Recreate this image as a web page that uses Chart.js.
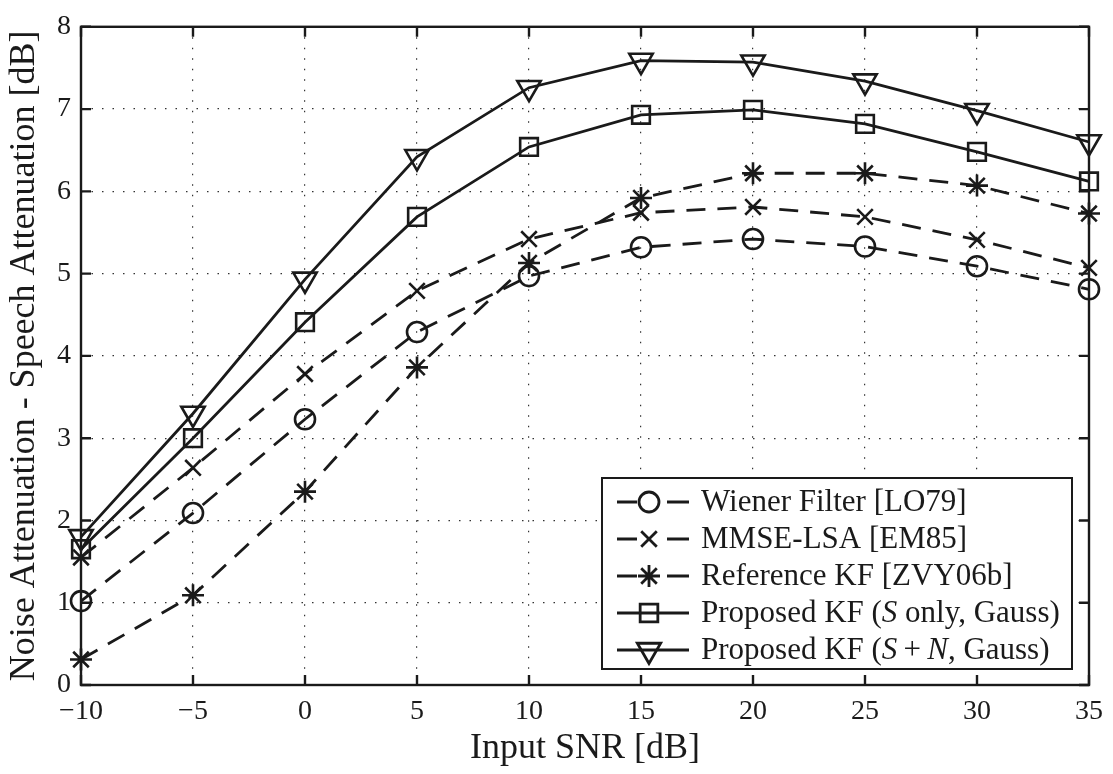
<!DOCTYPE html>
<html>
<head>
<meta charset="utf-8">
<script src="https://cdn.jsdelivr.net/npm/chart.js"></script>
<style>
  html, body { margin: 0; padding: 0; background: #fff; }
  #wrap { width: 1113px; height: 774px; }
</style>
</head>
<body>
<div id="wrap"><canvas id="snrChart" width="1113" height="774"></canvas></div>
<script>
// Input SNR values (x axis)
const snrValues = [-10, -5, 0, 5, 10, 15, 20, 25, 30, 35];
const xTicks = [-10, -5, 0, 5, 10, 15, 20, 25, 30, 35];
const yTicks = [0, 1, 2, 3, 4, 5, 6, 7, 8];

// Noise attenuation - speech attenuation per method [dB]
const wienerFilter = [1.02, 2.09, 3.23, 4.29, 4.97, 5.32, 5.42, 5.33, 5.09, 4.81];
const mmseLsa = [1.55, 2.64, 3.78, 4.79, 5.42, 5.74, 5.81, 5.69, 5.41, 5.07];
const referenceKf = [0.31, 1.09, 2.35, 3.86, 5.13, 5.92, 6.22, 6.22, 6.07, 5.73];
const proposedS = [1.65, 3.0, 4.41, 5.69, 6.54, 6.93, 6.99, 6.82, 6.48, 6.12];
const proposedSN = [1.8, 3.3, 4.93, 6.42, 7.26, 7.59, 7.57, 7.34, 6.98, 6.6];

const FONT = "'Liberation Serif', 'Times New Roman', serif";
const DASH = [19, 12];

// legend text, parts marked italic for the math symbols
const legendLabels = [
    [["Wiener Filter [LO79]", false]],
    [["MMSE-LSA [EM85]", false]],
    [["Reference KF [ZVY06b]", false]],
    [["Proposed KF (", false], ["S", true], [" only, Gauss)", false]],
    [["Proposed KF (", false], ["S", true], ["\u2009+\u2009", false], ["N", true], [", Gauss)", false]]
];

const makeSet = (label, data, style, radius, dashed, rotation) => ({
    label: label,
    data: data.map((v, i) => ({ x: snrValues[i], y: v })),
    borderColor: '#1a1a1a',
    borderWidth: 2.8,
    borderDash: dashed ? DASH : [],
    pointStyle: style,
    pointRadius: radius,
    pointRotation: rotation || 0,
    pointBorderColor: '#1a1a1a',
    pointBackgroundColor: 'rgba(0,0,0,0)',
    pointBorderWidth: 2.6,
    tension: 0,
    fill: false,
    clip: false
});

// box and inward ticks on all four sides
const boxTicks = {
    id: 'boxTicks',
    afterDatasetsDraw(chart) {
        const ctx = chart.ctx;
        const a = chart.chartArea;
        const xs = chart.scales.x, ys = chart.scales.y;
        const len = 10;
        ctx.save();
        ctx.strokeStyle = '#1a1a1a';
        ctx.lineWidth = 2.4;
        ctx.setLineDash([]);
        ctx.beginPath();
        xTicks.forEach(t => {
            const px = xs.getPixelForValue(t);
            ctx.moveTo(px, a.bottom); ctx.lineTo(px, a.bottom - len);
            ctx.moveTo(px, a.top); ctx.lineTo(px, a.top + len);
        });
        yTicks.forEach(t => {
            const py = ys.getPixelForValue(t);
            ctx.moveTo(a.left, py); ctx.lineTo(a.left + len, py);
            ctx.moveTo(a.right, py); ctx.lineTo(a.right - len, py);
        });
        ctx.stroke();
        ctx.strokeRect(a.left, a.top, a.right - a.left, a.bottom - a.top);
        ctx.restore();
    }
};

// legend box in the lower right corner of the plot
const legendBox = {
    id: 'legendBox',
    afterDraw(chart) {
        const ctx = chart.ctx;
        const a = chart.chartArea;
        const w = 470, h = 191;
        const x0 = a.right - 17 - w, y0 = a.bottom - 16 - h;
        ctx.save();
        ctx.fillStyle = '#fff';
        ctx.fillRect(x0, y0, w, h);
        ctx.strokeStyle = '#1a1a1a';
        ctx.lineWidth = 2;
        ctx.strokeRect(x0, y0, w, h);

        chart.data.datasets.forEach((ds, i) => {
            const cy = y0 + 24 + i * 37;
            const lx1 = x0 + 15, lx2 = x0 + 87, mx = x0 + 47;
            ctx.strokeStyle = '#1a1a1a';
            ctx.lineWidth = 2.8;
            ctx.beginPath();
            if (ds.borderDash.length) {
                ctx.moveTo(lx1, cy); ctx.lineTo(lx1 + 20, cy);
                ctx.moveTo(lx2 - 22, cy); ctx.lineTo(lx2, cy);
            } else {
                ctx.moveTo(lx1, cy); ctx.lineTo(lx2, cy);
            }
            ctx.stroke();
            // hollow marker
            ctx.fillStyle = 'rgba(0,0,0,0)';
            ctx.strokeStyle = '#1a1a1a';
            Chart.helpers.drawPoint(ctx, {
                pointStyle: ds.pointStyle,
                radius: ds.pointRadius,
                rotation: ds.pointRotation,
                borderWidth: ds.pointBorderWidth
            }, mx, cy);

            // label text
            let tx = x0 + 99;
            ctx.fillStyle = '#1a1a1a';
            ctx.textBaseline = 'middle';
            ctx.textAlign = 'left';
            legendLabels[i].forEach(([txt, ital]) => {
                ctx.font = (ital ? 'italic ' : '') + '31px ' + FONT;
                ctx.fillText(txt, tx, cy + 1);
                tx += ctx.measureText(txt).width;
            });
        });
        ctx.restore();
    }
};

const fmt = v => (v < 0 ? '\u2212' + Math.abs(v) : '' + v);

const snrChart = new Chart(document.getElementById('snrChart'), {
    type: 'line',
    data: {
        datasets: [
            makeSet('Wiener Filter [LO79]', wienerFilter, 'circle', 10, true),
            makeSet('MMSE-LSA [EM85]', mmseLsa, 'crossRot', 11, true),
            makeSet('Reference KF [ZVY06b]', referenceKf, 'star', 11, true),
            makeSet('Proposed KF (S only, Gauss)', proposedS, 'rect', 12.5, false),
            makeSet('Proposed KF (S+N, Gauss)', proposedSN, 'triangle', 13.5, false, 180)
        ]
    },
    options: {
        responsive: false,
        animation: false,
        layout: { padding: { top: 18, right: 23, left: 0, bottom: 0 } },
        plugins: {
            legend: { display: false },
            tooltip: { enabled: false }
        },
        scales: {
            x: {
                type: 'linear',
                min: -10,
                max: 35,
                afterFit: s => { s.height = 89; },
                afterBuildTicks: s => { s.ticks = xTicks.map(v => ({ value: v })); },
                grid: {
                    drawTicks: false,
                    color: '#333',
                    lineWidth: 1.2
                },
                border: { display: false, dash: [1.5, 9] },
                ticks: {
                    padding: 10,
                    color: '#1a1a1a',
                    font: { family: FONT, size: 28 },
                    callback: v => fmt(v),
                    maxRotation: 0
                },
                title: {
                    display: true,
                    text: 'Input SNR [dB]',
                    color: '#1a1a1a',
                    font: { family: FONT, size: 36 },
                    padding: { top: 0, bottom: 4 }
                }
            },
            y: {
                min: 0,
                max: 8,
                afterFit: s => { s.width = 81; },
                afterBuildTicks: s => { s.ticks = yTicks.map(v => ({ value: v })); },
                grid: {
                    drawTicks: false,
                    color: '#333',
                    lineWidth: 1.2
                },
                border: { display: false, dash: [1.5, 9] },
                ticks: {
                    padding: 10,
                    color: '#1a1a1a',
                    font: { family: FONT, size: 28 },
                    callback: v => fmt(v)
                },
                title: {
                    display: true,
                    text: 'Noise Attenuation - Speech Attenuation [dB]',
                    color: '#1a1a1a',
                    font: { family: FONT, size: 36 },
                    padding: { top: 3, bottom: 0 }
                }
            }
        }
    },
    plugins: [boxTicks, legendBox]
});
</script>
</body>
</html>
